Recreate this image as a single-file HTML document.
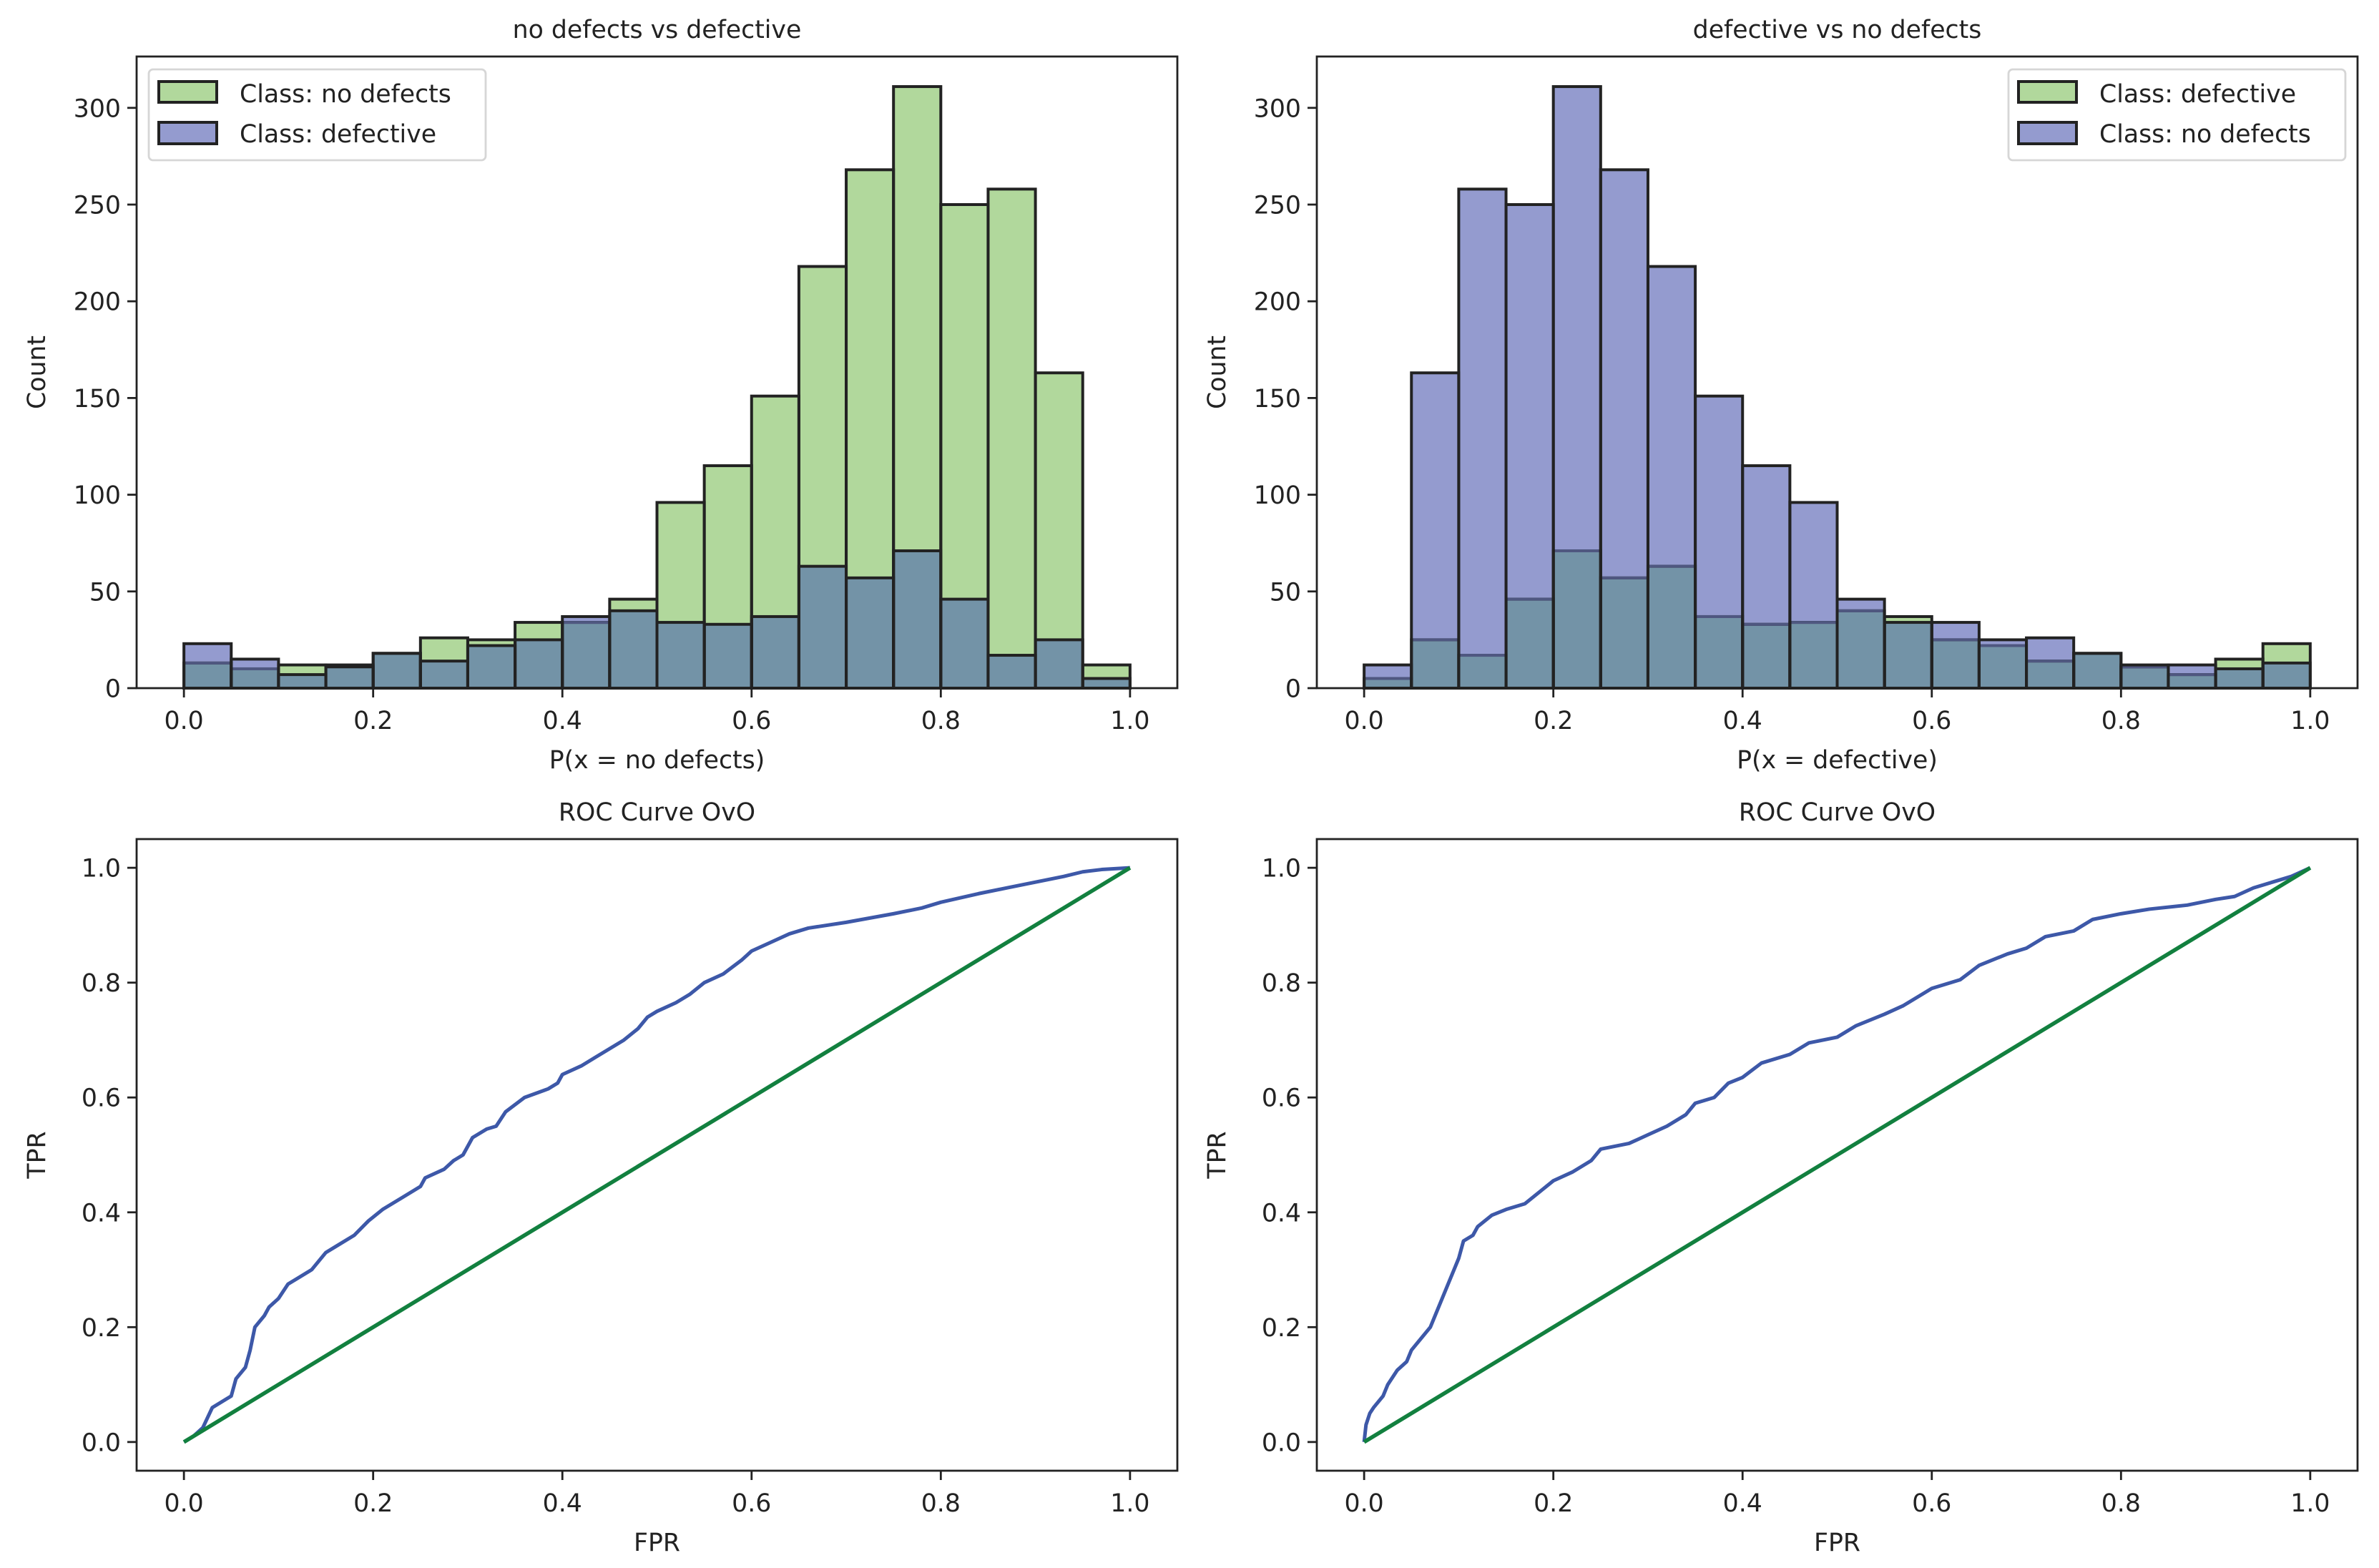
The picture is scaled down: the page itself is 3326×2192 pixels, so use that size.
<!DOCTYPE html>
<html><head><meta charset="utf-8">
<style>html,body{margin:0;padding:0;background:#fff;}svg{display:block;}text{font-family:"DejaVu Sans","Liberation Sans",sans-serif;font-size:34.7px;fill:#222;}</style>
</head><body>
<svg id="s" xmlns="http://www.w3.org/2000/svg" width="3326" height="2192" viewBox="0 0 3326 2192"></svg>
<script>
const S=document.getElementById('s');let h='';
const G='#b1d89c',B='#949bcf',O='#7393a7',E='#222222',F='#4f5780';
const gL=[13,10,12,12,18,26,25,34,34,46,96,115,151,218,268,311,250,258,163,12];
const bL=[23,15,7,11,18,14,22,25,37,40,34,33,37,63,57,71,46,17,25,5];
function axes(L,T,W,H){return {L,T,W,H,x:v=>L+(v+0.05)/1.1*W};}
function frame(a){h+=`<rect x="${a.L}" y="${a.T}" width="${a.W}" height="${a.H}" fill="none" stroke="${E}" stroke-width="2.8"/>`;}
function xt(a){for(let i=0;i<=5;i++){const v=i/5,x=a.x(v);h+=`<line x1="${x}" y1="${a.T+a.H}" x2="${x}" y2="${a.T+a.H+13}" stroke="${E}" stroke-width="2.8"/><text x="${x}" y="${a.T+a.H+57}" text-anchor="middle">${v.toFixed(1)}</text>`;}}
function yt(a,vals,fy,fmt){vals.forEach(v=>{const y=fy(v);h+=`<line x1="${a.L-13}" y1="${y}" x2="${a.L}" y2="${y}" stroke="${E}" stroke-width="2.8"/><text x="${a.L-22}" y="${y+12.5}" text-anchor="end">${fmt(v)}</text>`;});}
function hist(a,g,b,title,xl,leg,legX){
  const k=a.H/326.55,y0=a.T+a.H,fy=v=>y0-v*k;
  h+=`<text x="${a.L+a.W/2}" y="${a.T-26}" text-anchor="middle">${title}</text>`;
  for(let i=0;i<20;i++){const x1=a.x(i*0.05),x2=a.x((i+1)*0.05),w=x2-x1,lo=Math.min(g[i],b[i]);
    h+=`<rect x="${x1}" y="${fy(lo)}" width="${w}" height="${lo*k}" fill="${O}"/>`;
    if(g[i]>b[i])h+=`<rect x="${x1}" y="${fy(g[i])}" width="${w}" height="${(g[i]-lo)*k}" fill="${G}"/>`;
    if(b[i]>g[i])h+=`<rect x="${x1}" y="${fy(b[i])}" width="${w}" height="${(b[i]-lo)*k}" fill="${B}"/>`;}
  for(let i=0;i<20;i++){const x1=a.x(i*0.05),x2=a.x((i+1)*0.05);
    h+=`<rect x="${x1}" y="${fy(g[i])}" width="${x2-x1}" height="${g[i]*k}" fill="none" stroke="${E}" stroke-width="4"/>`;}
  for(let i=0;i<20;i++){const x1=a.x(i*0.05),x2=a.x((i+1)*0.05);
    if(b[i]>g[i])h+=`<line x1="${x1+2}" y1="${fy(g[i])}" x2="${x2-2}" y2="${fy(g[i])}" stroke="${F}" stroke-width="4"/>`;}
  for(let i=0;i<20;i++){const x1=a.x(i*0.05),x2=a.x((i+1)*0.05);
    h+=`<rect x="${x1}" y="${fy(b[i])}" width="${x2-x1}" height="${b[i]*k}" fill="none" stroke="${E}" stroke-width="4"/>`;}
  frame(a);xt(a);yt(a,[0,50,100,150,200,250,300],fy,v=>v);
  h+=`<text x="${a.L+a.W/2}" y="${a.T+a.H+112}" text-anchor="middle">${xl}</text>`;
  h+=`<text transform="translate(${a.L-128},${a.T+a.H/2}) rotate(-90)" text-anchor="middle">Count</text>`;
  const lx=legX,lw=471;
  h+=`<rect x="${lx}" y="97" width="${lw}" height="127" rx="6" fill="#fff" fill-opacity="0.8" stroke="#d6d6d6" stroke-width="2.8"/>`;
  h+=`<rect x="${lx+14}" y="114" width="81" height="29" fill="${G}" stroke="${E}" stroke-width="4"/>`;
  h+=`<rect x="${lx+14}" y="171" width="81" height="30" fill="${B}" stroke="${E}" stroke-width="4"/>`;
  h+=`<text x="${lx+127}" y="143">${leg[0]}</text><text x="${lx+127}" y="199">${leg[1]}</text>`;
}
function roc(a,pts){
  const fy=v=>a.T+(1.05-v)/1.1*a.H;
  h+=`<text x="${a.L+a.W/2}" y="${a.T-26}" text-anchor="middle">ROC Curve OvO</text>`;
  h+=`<polyline fill="none" stroke="#3d58a8" stroke-width="5" stroke-linejoin="round" points="${pts.map(p=>a.x(p[0])+','+fy(p[1])).join(' ')}"/>`;
  h+=`<line x1="${a.x(0)}" y1="${fy(0)}" x2="${a.x(1)}" y2="${fy(1)}" stroke="#12803f" stroke-width="5.5"/>`;
  frame(a);xt(a);yt(a,[0,0.2,0.4,0.6,0.8,1.0],fy,v=>v.toFixed(1));
  h+=`<text x="${a.L+a.W/2}" y="${a.T+a.H+112}" text-anchor="middle">FPR</text>`;
  h+=`<text transform="translate(${a.L-128},${a.T+a.H/2}) rotate(-90)" text-anchor="middle">TPR</text>`;
}
const A1=axes(191,79,1455,883),A2=axes(1841,79,1455,883),A3=axes(191,1173,1455,883),A4=axes(1841,1173,1455,883);
hist(A1,gL,bL,'no defects vs defective','P(x = no defects)',['Class: no defects','Class: defective'],208);
hist(A2,bL.slice().reverse(),gL.slice().reverse(),'defective vs no defects','P(x = defective)',['Class: defective','Class: no defects'],2808);
roc(A3,[[0,0],[0.01,0.01],[0.02,0.025],[0.03,0.06],[0.045,0.075],[0.05,0.08],[0.055,0.11],[0.065,0.13],[0.07,0.16],[0.075,0.2],[0.085,0.22],[0.09,0.235],[0.1,0.25],[0.11,0.275],[0.12,0.285],[0.135,0.3],[0.15,0.33],[0.16,0.34],[0.18,0.36],[0.195,0.385],[0.21,0.405],[0.23,0.425],[0.25,0.445],[0.255,0.46],[0.275,0.475],[0.285,0.49],[0.295,0.5],[0.305,0.53],[0.32,0.545],[0.33,0.55],[0.34,0.575],[0.36,0.6],[0.385,0.615],[0.395,0.625],[0.4,0.64],[0.42,0.655],[0.435,0.67],[0.45,0.685],[0.465,0.7],[0.48,0.72],[0.49,0.74],[0.5,0.75],[0.52,0.765],[0.535,0.78],[0.55,0.8],[0.57,0.815],[0.59,0.84],[0.6,0.855],[0.62,0.87],[0.64,0.885],[0.66,0.895],[0.7,0.905],[0.75,0.92],[0.78,0.93],[0.8,0.94],[0.84,0.955],[0.87,0.965],[0.9,0.975],[0.93,0.985],[0.95,0.993],[0.97,0.997],[1,1]]);
roc(A4,[[0,0],[0.002,0.03],[0.006,0.05],[0.01,0.06],[0.02,0.08],[0.025,0.1],[0.035,0.125],[0.045,0.14],[0.05,0.16],[0.06,0.18],[0.07,0.2],[0.075,0.22],[0.08,0.24],[0.09,0.28],[0.095,0.3],[0.1,0.32],[0.105,0.35],[0.115,0.36],[0.12,0.375],[0.135,0.395],[0.15,0.405],[0.17,0.415],[0.185,0.435],[0.2,0.455],[0.22,0.47],[0.24,0.49],[0.25,0.51],[0.28,0.52],[0.3,0.535],[0.32,0.55],[0.34,0.57],[0.35,0.59],[0.37,0.6],[0.385,0.625],[0.4,0.635],[0.42,0.66],[0.45,0.675],[0.47,0.695],[0.5,0.705],[0.52,0.725],[0.55,0.745],[0.57,0.76],[0.6,0.79],[0.63,0.805],[0.65,0.83],[0.68,0.85],[0.7,0.86],[0.72,0.88],[0.75,0.89],[0.77,0.91],[0.8,0.92],[0.83,0.928],[0.87,0.935],[0.9,0.945],[0.92,0.95],[0.94,0.965],[0.96,0.975],[0.98,0.985],[1,1]]);
S.innerHTML=h;
</script>
</body></html>
